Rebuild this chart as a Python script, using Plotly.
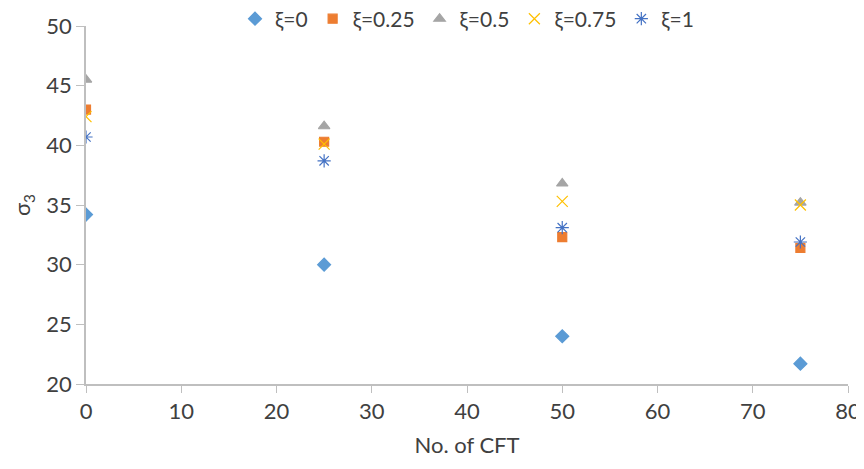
import plotly.graph_objects as go

x_cft = [0, 25, 50, 75]
xi_0 = [34.2, 30.0, 24.0, 21.7]
xi_025 = [43.0, 40.3, 32.3, 31.4]
xi_05 = [45.5, 41.6, 36.8, 35.2]
xi_075 = [42.4, 40.1, 35.3, 35.0]
xi_1 = [40.7, 38.7, 33.1, 31.9]

names = ["ξ=0", "ξ=0.25", "ξ=0.5", "ξ=0.75", "ξ=1"]
series = [xi_0, xi_025, xi_05, xi_075, xi_1]
colors = ["#5B9BD5", "#ED7D31", "#A5A5A5", "#FFC000", "#4472C4"]
symbols = ["diamond", "square", "triangle-up", "x-thin-open", "asterisk-open"]
sizes = [10, 9, 10, 11, 11]

fig = go.Figure()
for n, s, c, sym, sz in zip(names, series, colors, symbols, sizes):
    fig.add_trace(go.Scatter(
        x=x_cft, y=s, mode="markers", name=n,
        marker=dict(symbol=sym, color=c, size=sz,
                    line=dict(color=c, width=1.2)),
    ))

font_family = "Lato, Open Sans, sans-serif"
fs = 22
fig.update_layout(
    width=856, height=461,
    margin=dict(l=78, r=16, t=18, b=85, autoexpand=False),
    paper_bgcolor="white", plot_bgcolor="white",
    font=dict(family=font_family, size=fs, color="#404040"),
    showlegend=True,
    legend=dict(orientation="h", x=0.5, xanchor="center", y=0.976, yanchor="middle",
                yref="container",
                font=dict(size=21, color="#404040"), itemwidth=30,
                bgcolor="rgba(0,0,0,0)"),
    xaxis=dict(range=[0, 80], dtick=10, tick0=0, showgrid=False, zeroline=False,
               showline=True, linecolor="#BFBFBF", linewidth=1.5, automargin=False,
               ticks="outside", ticklen=7, tickcolor="#BFBFBF", layer="below traces",
               title=dict(text="No. of CFT", font=dict(size=fs), standoff=14),
               tickfont=dict(size=fs)),
    yaxis=dict(range=[20, 50], dtick=5, showgrid=False, zeroline=False,
               showline=True, linecolor="#BFBFBF", linewidth=1.5, automargin=False,
               ticks="outside", ticklen=8, tickcolor="#BFBFBF", layer="below traces",
               title=dict(text="σ<sub>3</sub>", font=dict(size=fs), standoff=18),
               tickfont=dict(size=fs)),
)

fig.write_html("out.html")
